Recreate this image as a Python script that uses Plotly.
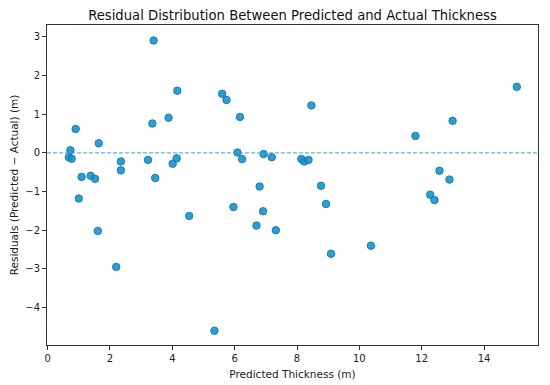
import plotly.graph_objects as go

predicted = [0.73, 0.68, 0.77, 0.90, 1.00, 1.09, 1.38, 1.52, 1.64, 1.61,
             2.20, 2.35, 2.35, 3.22, 3.36, 3.40, 3.45, 3.88, 4.01, 4.14,
             4.16, 4.54, 5.35, 5.60, 5.74, 5.96, 6.09, 6.17, 6.24, 6.70,
             6.80, 6.93, 6.91, 7.19, 7.32, 8.14, 8.23, 8.37, 8.46, 8.77,
             8.93, 9.09, 10.37, 11.80, 12.27, 12.41, 12.57, 12.89, 12.99, 15.05]
residuals = [0.07, -0.11, -0.15, 0.62, -1.18, -0.62, -0.59, -0.67, 0.25, -2.02,
             -2.95, -0.22, -0.45, -0.18, 0.76, 2.91, -0.65, 0.91, -0.28, -0.14,
             1.61, -1.63, -4.60, 1.53, 1.37, -1.40, 0.01, 0.93, -0.16, -1.88,
             -0.87, -0.03, -1.51, -0.11, -2.00, -0.16, -0.22, -0.18, 1.23, -0.85,
             -1.32, -2.61, -2.40, 0.44, -1.08, -1.22, -0.46, -0.69, 0.83, 1.71]

x_ticks = [0, 2, 4, 6, 8, 10, 12, 14]
y_ticks = [-4, -3, -2, -1, 0, 1, 2, 3]

font = "DejaVu Sans, Liberation Sans, sans-serif"

fig = go.Figure()
fig.add_trace(go.Scatter(
    x=predicted, y=residuals, mode="markers",
    marker=dict(size=7.5, color="rgba(17,143,200,0.88)",
                line=dict(color="rgba(20,120,175,0.9)", width=1)),
    showlegend=False,
))
fig.add_hline(y=0, line=dict(color="#2ea3d6", width=1, dash="4px,2px"))

axis_common = dict(
    showgrid=False, zeroline=False, showline=True, mirror=True, automargin=False,
    linecolor="#333333", linewidth=1, ticks="outside", ticklen=4,
    tickcolor="#333333", tickfont=dict(size=10, color="#222222", family=font),
)
fig.update_xaxes(range=[-0.02, 15.73], tickvals=x_ticks,
                 title=dict(text="Predicted Thickness (m)", font=dict(size=10.5, color="#222222", family=font), standoff=7),
                 **axis_common)
fig.update_yaxes(range=[-4.97, 3.31], tickvals=y_ticks,
                 title=dict(text="Residuals (Predicted − Actual) (m)", font=dict(size=10.5, color="#222222", family=font), standoff=7),
                 **axis_common)
fig.update_layout(
    width=550, height=385,
    margin=dict(l=39, r=20, t=17, b=48),
    paper_bgcolor="white", plot_bgcolor="white",
    title=dict(text="Residual Distribution Between Predicted and Actual Thickness",
               x=0.5, xref="paper", xanchor="center", y=0.982, yref="container", yanchor="middle",
               font=dict(size=13.2, color="#111111", family=font)),
    font=dict(family=font),
)
fig.write_html("out.html")
